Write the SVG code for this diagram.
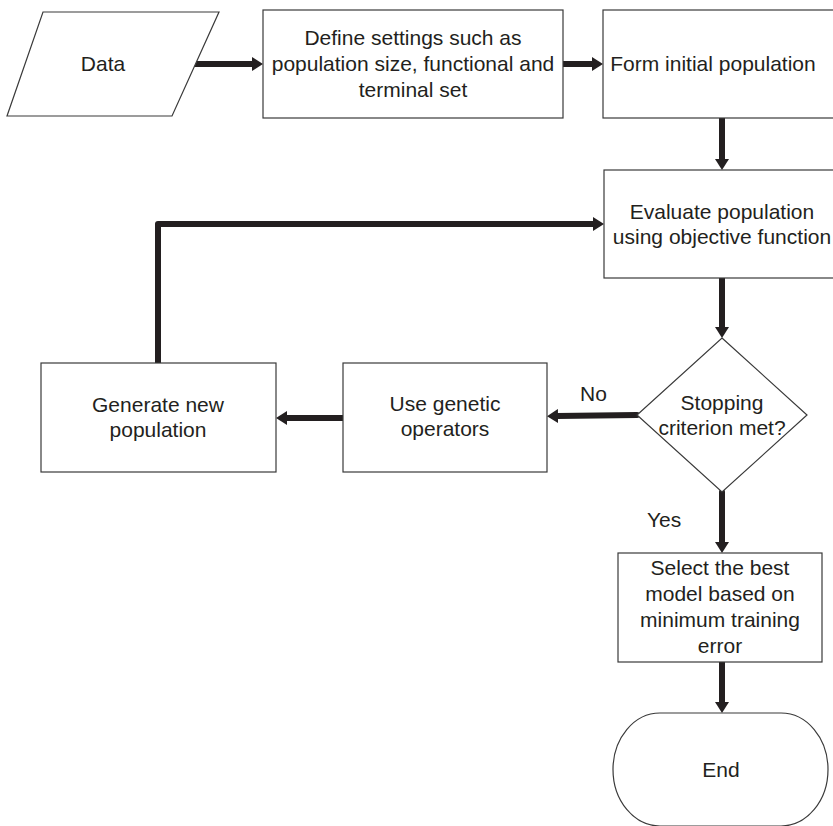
<svg xmlns="http://www.w3.org/2000/svg" width="833" height="826" viewBox="0 0 833 826">
<defs>
<style>
.shape{fill:#fff;stroke:#3a3a3a;stroke-width:1.2}
.t{font-family:"Liberation Sans",Arial,sans-serif;font-size:21px;fill:#231f20;text-anchor:middle}
.ts{font-family:"Liberation Sans",Arial,sans-serif;font-size:21px;fill:#231f20;text-anchor:start}
.c{fill:none;stroke:#231f20;stroke-width:6;stroke-linecap:round;stroke-linejoin:round;marker-end:url(#ah)}
</style>
<marker id="ah" markerUnits="userSpaceOnUse" markerWidth="12" markerHeight="14" refX="1" refY="7" orient="auto">
<path d="M0,0 L11,7 L0,14 Z" fill="#231f20"/>
</marker>
</defs>
<rect width="833" height="826" fill="#fff"/>
<g id="connectors">
<path class="c" d="M192,64 L253,64"/>
<path class="c" d="M563,64 L593,64"/>
<path class="c" d="M722,118 L722,160"/>
<path class="c" d="M722,278 L722,328"/>
<path class="c" d="M637,415 L557,416"/>
<path class="c" d="M343,418 L286,418"/>
<path class="c" d="M158,363 L158,224 L594,224"/>
<path class="c" d="M722,492 L722,543"/>
<path class="c" d="M722,662 L722,703"/>
</g>
<g id="data">
<polygon class="shape" points="43,12 219,12 172,116 7,116"/>
<text class="t" x="103" y="71">Data</text>
</g>
<g id="define">
<rect class="shape" x="263" y="10" width="300" height="108"/>
<text class="t" x="413" y="45">Define settings such as</text>
<text class="t" x="413" y="71">population size, functional and</text>
<text class="t" x="413" y="97">terminal set</text>
</g>
<g id="form">
<rect class="shape" x="603" y="10" width="250" height="108"/>
<text class="t" x="713" y="71">Form initial population</text>
</g>
<g id="evaluate">
<rect class="shape" x="604" y="170" width="250" height="108"/>
<text class="t" x="722" y="219">Evaluate population</text>
<text class="t" x="722" y="244">using objective function</text>
</g>
<g id="decision">
<polygon class="shape" points="722,338 807,415 722,492 637,415"/>
<text class="t" x="722" y="410">Stopping</text>
<text class="t" x="722" y="435">criterion met?</text>
</g>
<g id="use">
<rect class="shape" x="343" y="363" width="204" height="109"/>
<text class="t" x="445" y="411">Use genetic</text>
<text class="t" x="445" y="436">operators</text>
</g>
<g id="generate">
<rect class="shape" x="41" y="363" width="235" height="109"/>
<text class="t" x="158" y="412">Generate new</text>
<text class="t" x="158" y="437">population</text>
</g>
<g id="labels">
<text class="ts" x="580" y="401">No</text>
<text class="ts" x="647" y="527">Yes</text>
</g>
<g id="select">
<rect class="shape" x="618" y="553" width="204" height="109"/>
<text class="t" x="720" y="575">Select the best</text>
<text class="t" x="720" y="601">model based on</text>
<text class="t" x="720" y="627">minimum training</text>
<text class="t" x="720" y="653">error</text>
</g>
<g id="end">
<path class="shape" d="M660,713 L781,713 A47,56.5 0 0 1 781,826 L660,826 A47,56.5 0 0 1 660,713 Z"/>
<text class="t" x="721" y="777">End</text>
</g>
</svg>
